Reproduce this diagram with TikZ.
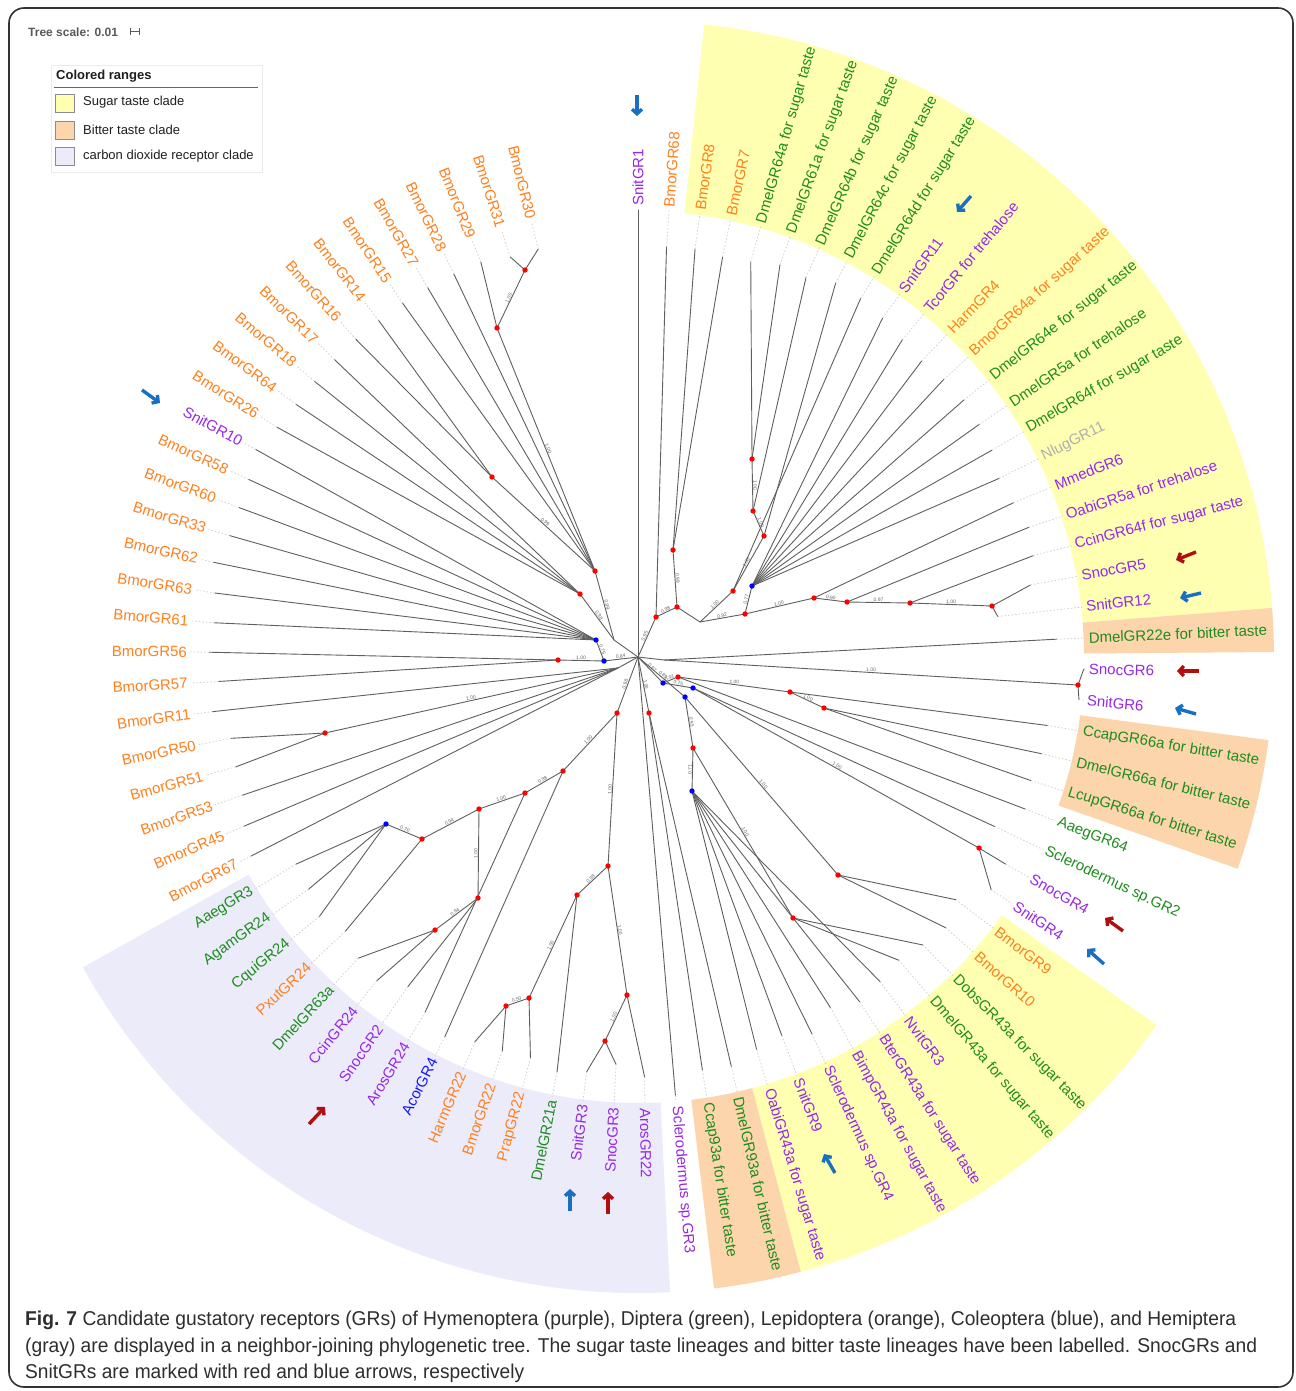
\documentclass[tikz,border=0pt]{standalone}
\usepackage{fontspec}
\usepackage{graphicx}
\setmainfont{Liberation Sans}
\usetikzlibrary{calc,arrows.meta}
\definecolor{cP}{RGB}{150,40,230}
\definecolor{cG}{RGB}{30,140,30}
\definecolor{cO}{RGB}{255,128,30}
\definecolor{cY}{RGB}{175,175,175}
\definecolor{cB}{RGB}{20,20,255}
\definecolor{sugar}{RGB}{255,255,178}
\definecolor{bitter}{RGB}{252,213,172}
\definecolor{cotwo}{RGB}{235,235,250}
\definecolor{brc}{RGB}{95,95,95}
\definecolor{arR}{RGB}{175,15,15}
\definecolor{arB}{RGB}{25,112,192}
\newcommand\rangesector[3]{\fill[#1] ($(C)+(#2:446)$) arc[start angle=#2,end angle=#3,radius=446] -- ($(C)+(#3:636)$) arc[start angle=#3,end angle=#2,radius=636] -- cycle;}
\tikzset{
 lab/.style={font=\fontsize{15}{18}\selectfont, inner sep=0pt},
 br/.style={draw=brc, line width=0.9pt},
 dotln/.style={draw=black!18, line width=0.8pt, dash pattern=on 1.5pt off 2pt},
 boot/.style={font=\fontsize{5}{5}\selectfont, text=black!60, inner sep=0.6pt},
 mk/.style={line width=3.4pt, -{Straight Barb[length=4.5pt,width=10pt]}},
}
\begin{document}
\begin{tikzpicture}[x=1pt,y=1pt]
\useasboundingbox (0,0) rectangle (1295,-1391);
\fill[white] (0,0) rectangle (1295,-1391);
\coordinate (C) at (638,-657);
\coordinate (R) at (638,-657);
% colored ranges
\rangesector{sugar}{84.03}{4.43}
\rangesector{bitter}{4.43}{0.45}
\rangesector{bitter}{-7.51}{-19.45}
\rangesector{sugar}{-35.37}{-75.17}
\rangesector{bitter}{-75.17}{-83.13}
\rangesector{cotwo}{-87.11}{-150.79}
% leaves
\foreach \i/\lbl/\col/\rad in {
1/SnitGR1/cP/447, 2/BmorGR68/cO/411, 3/BmorGR8/cO/412, 4/BmorGR7/cO/409,
5/DmelGR64a for sugar taste/cG/411, 6/DmelGR61a for sugar taste/cG/417,
7/DmelGR64b for sugar taste/cG/415, 8/DmelGR64c for sugar taste/cG/423,
9/DmelGR64d for sugar taste/cG/422, 10/SnitGR11/cP/418, 11/TcorGR for trehalose/cP/413,
12/HarmGR4/cO/410, 13/BmorGR64a for sugar taste/cO/413, 14/DmelGR64e for sugar taste/cG/415,
15/DmelGR5a for trehalose/cG/413, 16/DmelGR64f for sugar taste/cG/410, 17/NlugGR11/cY/403,
18/MmedGR6/cP/406, 19/OabiGR5a for trehalose/cP/412, 20/CcinGR64f for sugar taste/cP/408,
21/SnocGR5/cP/399, 22/SnitGR12/cP/362, 23/DmelGR22e for bitter taste/cG/419,
24/SnocGR6/cP/446, 25/SnitGR6/cP/443, 26/CcapGR66a for bitter taste/cG/415,
27/DmelGR66a for bitter taste/cG/415, 28/LcupGR66a for bitter taste/cG/412,
29/AaegGR64/cG/416, 30/Sclerodermus sp.GR2/cG/395, 31/SnocGR4/cP/422, 32/SnitGR4/cP/423,
33/BmorGR9/cO/400, 34/BmorGR10/cO/410, 35/DobsGR43a for sugar taste/cG/405,
36/DmelGR43a for sugar taste/cG/400, 37/NvitGR3/cP/405, 38/BterGR43a for sugar taste/cP/410,
39/BimpGR43a for sugar taste/cP/400, 40/Sclerodermus sp.GR4/cP/415, 41/SnitGR9/cP/405,
42/OabiGR43a for sugar taste/cP/410, 43/DmelGR93a for bitter taste/cG/420,
44/Ccap93a for bitter taste/cG/418, 45/Sclerodermus sp.GR3/cP/440, 46/ArosGR22/cP/420,
47/SnocGR3/cP/408, 48/SnitGR3/cP/418, 49/DmelGR21a/cG/423, 50/PrapGR22/cO/415,
51/BmorGR22/cO/417, 52/HarmGR22/cO/418, 53/AcorGR4/cB/426, 54/ArosGR24/cP/414,
55/SnocGR2/cP/402, 56/CcinGR24/cP/416, 57/DmelGR63a/cG/411, 58/PxutGR24/cO/401,
59/CquiGR24/cG/411, 60/AgamGR24/cG/403, 61/AaegGR3/cG/400, 62/BmorGR67/cO/435,
63/BmorGR45/cO/429, 64/BmorGR53/cO/419, 65/BmorGR51/cO/417, 66/BmorGR50/cO/415,
67/BmorGR11/cO/429, 68/BmorGR57/cO/420, 69/BmorGR56/cO/429, 70/BmorGR61/cO/425,
71/BmorGR63/cO/428, 72/BmorGR62/cO/435, 73/BmorGR33/cO/426, 74/BmorGR60/cO/426,
75/BmorGR58/cO/428, 76/SnitGR10/cP/435, 77/BmorGR26/cO/428, 78/BmorGR64/cO/425,
79/BmorGR18/cO/425, 80/BmorGR17/cO/425, 81/BmorGR16/cO/425, 82/BmorGR14/cO/425,
83/BmorGR15/cO/425, 84/BmorGR27/cO/425, 85/BmorGR28/cO/425, 86/BmorGR29/cO/425,
87/BmorGR31/cO/420, 88/BmorGR30/cO/420}{
  \pgfmathsetmacro\ang{90-(\i-1)*3.98}
  \coordinate (t\i) at ($(C)+(\ang:\rad)$);
  \draw[dotln] (t\i) -- ($(C)+(\ang:448)$);
  \pgfmathtruncatemacro\side{\ang<-90}
  \ifnum\side=1
    \node[lab,text=\col,anchor=east,rotate=\ang+180] (L\i) at ($(C)+(\ang:451)$) {\lbl};
  \else
    \node[lab,text=\col,anchor=west,rotate=\ang] (L\i) at ($(C)+(\ang:451)$) {\lbl};
  \fi
}
% internal nodes
\foreach \n/\x/\y in {A/656/617, B/677/607, Cn/673/550, E/700/622, F/733/591, N3/764/536,
 N2/753/511, N1/752/459, G/745/614, H/752/586, I/814/598, J/847/602, K/910/603, L/992/606,
 D0/664/660, SS/1078/685, B1/663/683, M1/678/677, Cc/790/692, Cd/824/708, B2/693/688,
 Sn4/979/848, B3/685/697, B9/838/875, M2/693/748, D43/793/918, B4/692/791, N93/649/713,
 P/617/713, S/608/866, T/577/895, V/529/998, W/506/1006, U/627/995, X/605/1041, Q/563/771,
 Y/525/793, Z/479/809, BB/478/898, CC/435/930, AA/422/839, BL/386/824,
 LH1/618/668, N5051/325/733, LB/604/661, N56/558/660, LC/596/640, LG/614/640,
 LD/580/594, LE/595/571, N1614/492/477, N29/497/328, N30/525/270}{
  \coordinate (\n) at (\x,-\y);
}
% branches
\foreach \p/\q in {R/t1, R/A, A/t2, A/B, B/Cn, Cn/t3, Cn/t4, B/E, E/F, F/N3, F/t9, N3/N2, N3/t8,
 N2/N1, N2/t7, N1/t5, N1/t6, E/G, G/H, G/I, H/t10, H/t11, H/t12, H/t13, H/t14, H/t15, H/t16,
 H/t17, I/t18, I/J, J/t19, J/K, K/t20, K/L, L/t21, L/t22,
 R/D0, D0/t23, D0/SS, SS/t24, SS/t25,
 R/B1, B1/M1, M1/Cc, Cc/t26, Cc/Cd, Cd/t27, Cd/t28, M1/t29, B1/B2, B2/t30, B2/Sn4, Sn4/t31, Sn4/t32,
 R/B3, B3/B9, B9/t33, B9/t34, B3/M2, M2/D43, D43/t35, D43/t36, M2/B4, B4/t37, B4/t38, B4/t39,
 B4/t40, B4/t41, B4/t42, R/N93, N93/t43, N93/t44, R/t45,
 R/P, P/S, S/T, T/V, V/W, W/t51, W/t52, V/t50, T/t49, S/U, U/X, X/t47, X/t48, U/t46, P/Q, Q/Y,
 Q/t53, Y/Z, Y/t54, Z/BB, BB/t55, BB/CC, CC/t56, CC/t57, Z/AA, AA/t58, AA/BL, BL/t59, BL/t60, BL/t61,
 R/LH1, LH1/t62, LH1/t63, LH1/t64, LH1/N5051, N5051/t65, N5051/t66, LH1/t67,
 R/LB, LB/N56, N56/t68, N56/t69, LB/LC, LC/t70, LC/t71, LC/t72, LC/t73, LC/t74, LC/t75, LC/t76,
 R/LG, LG/LD, LD/t77, LD/t78, LD/t79, LD/t80, LG/LE, LE/N1614, N1614/t81, N1614/t82, LE/t83,
 LE/t84, LE/t85, LE/N29, N29/t86, N29/N30, N30/t87, N30/t88}{
  \draw[br] (\p) -- (\q);
}
% support values
\foreach \p/\q/\v in {R/A/0.95, A/B/0.98, B/Cn/0.99, E/F/1.00, F/N3/1.00, N3/N2/1.00, N2/N1/1.00,
 E/G/0.92, G/H/0.77, G/I/1.00, I/J/0.90, J/K/0.97, K/L/1.00, D0/SS/1.00, R/B1/0.87, B1/M1/0.91,
 M1/Cc/1.00, Cc/Cd/1.00, B1/B2/0.75, B2/Sn4/1.00, R/B3/0.89, B3/B9/1.00, B3/M2/0.95, M2/D43/1.00,
 M2/B4/0.71, R/N93/1.00, R/P/0.98, P/S/1.00, S/T/0.98, T/V/1.00, V/W/0.50, S/U/1.00, U/X/1.00,
 P/Q/1.00, Q/Y/0.98, Y/Z/1.00, Z/BB/1.00, BB/CC/0.94, Z/AA/0.94, AA/BL/0.70, LH1/N5051/1.00,
 R/LB/0.84, LB/N56/1.00, LB/LC/0.75, LG/LD/0.98, LG/LE/0.99, LE/N1614/0.99, LE/N29/1.00, N29/N30/1.00}{
  \path (\p) -- node[boot,sloped,above] {\v} (\q);
}
\foreach \n in {A,B,Cn,F,N3,N2,N1,G,I,J,K,L,SS,M1,Cc,Cd,Sn4,B9,M2,D43,N93,P,S,T,V,W,U,X,Q,Y,Z,BB,CC,AA,
 N5051,N56,LD,LE,N1614,N29,N30}{\fill[red] (\n) circle (2.7);}
\foreach \n in {H,B1,B2,B3,B4,BL,LB,LC}{\fill[blue] (\n) circle (2.7);}
% arrows marking SnocGRs (red) and SnitGRs (blue)
\draw[mk,arB] (637,-95) -- (637,-116);
\draw[mk,arB] (971,-196) -- (957,-212);
\draw[mk,arR] (1196,-552) -- (1176,-560);
\draw[mk,arB] (1201,-593) -- (1180,-598);
\draw[mk,arR] (1199,-671) -- (1177,-671);
\draw[mk,arB] (1196,-714) -- (1175,-708);
\draw[mk,arR] (1123,-931) -- (1105,-918);
\draw[mk,arB] (1104,-964) -- (1087,-949);
\draw[mk,arB] (835,-1173) -- (824,-1154);
\draw[mk,arB] (570,-1211) -- (570,-1189);
\draw[mk,arR] (608,-1214) -- (608,-1192);
\draw[mk,arR] (309,-1124) -- (325,-1107);
\draw[mk,arB] (142,-390) -- (160,-403);
% tree scale
\node[anchor=west,inner sep=0,font=\bfseries\fontsize{12}{14}\selectfont,text=black!65] (ts) at (28,-32) {Tree scale: 0.01};
\draw[black!65,line width=1pt] (130,-32) -- (139,-32) (130,-28.5) -- (130,-35.5) (139,-28.5) -- (139,-35.5);
% legend
\draw[draw=black!8,fill=white] (51,-65) rectangle (262,-172);
\node[anchor=west,inner sep=0,font=\bfseries\fontsize{13}{15}\selectfont,text=black!88] (lgh) at (56,-76) {Colored ranges};
\draw[black!60,line width=0.9pt] (54,-87.5) -- (258,-87.5);
\draw[draw=black!45,fill=sugar] (55,-94) rectangle (74,-112);
\draw[draw=black!45,fill=bitter] (55,-121) rectangle (74,-139);
\draw[draw=black!45,fill=cotwo] (55,-147) rectangle (74,-165);
\node[anchor=west,inner sep=0,font=\fontsize{13}{15}\selectfont,text=black!88] (lg1) at (83,-102.5) {Sugar taste clade};
\node[anchor=west,inner sep=0,font=\fontsize{13}{15}\selectfont,text=black!88] (lg2) at (83,-129.5) {Bitter taste clade};
\node[anchor=west,inner sep=0,font=\fontsize{13}{15}\selectfont,text=black!88] (lg3) at (83,-156.5) {carbon dioxide receptor clade};
% frame
\draw[line width=1.6pt,black!80,rounded corners=15pt] (9,-8) rectangle (1293,-1387);
% caption
\node[anchor=west,inner sep=0,text=black!82] (cap1) at (25,-1320) {\resizebox{1211pt}{\height}{\fontsize{20}{24}\selectfont\textbf{Fig. 7} Candidate gustatory receptors (GRs) of Hymenoptera (purple), Diptera (green), Lepidoptera (orange), Coleoptera (blue), and Hemiptera}};
\node[anchor=west,inner sep=0,text=black!82] (cap2) at (25,-1347) {\resizebox{1232pt}{\height}{\fontsize{20}{24}\selectfont (gray) are displayed in a neighbor-joining phylogenetic tree. The sugar taste lineages and bitter taste lineages have been labelled. SnocGRs and}};
\node[anchor=west,inner sep=0,text=black!82] (cap3) at (25,-1373) {\resizebox{499pt}{\height}{\fontsize{20}{24}\selectfont SnitGRs are marked with red and blue arrows, respectively}};
\end{tikzpicture}
\end{document}
